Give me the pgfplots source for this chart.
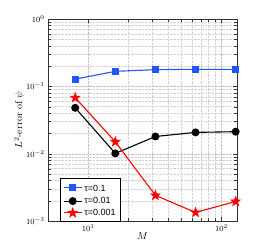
\documentclass[border=0pt]{standalone}
\usepackage{pgfplots}
\pgfplotsset{compat=1.18}
\usepackage{fontspec}
\newfontfamily\legfont{Liberation Sans}
\definecolor{myblue}{RGB}{35,85,255}
\pgfdeclareplotmark{fstar}{%
  \pgfpathmoveto{\pgfpointpolar{90}{\pgfplotmarksize}}%
  \pgfpathlineto{\pgfpointpolar{126}{0.40\pgfplotmarksize}}%
  \pgfpathlineto{\pgfpointpolar{162}{\pgfplotmarksize}}%
  \pgfpathlineto{\pgfpointpolar{198}{0.40\pgfplotmarksize}}%
  \pgfpathlineto{\pgfpointpolar{234}{\pgfplotmarksize}}%
  \pgfpathlineto{\pgfpointpolar{270}{0.40\pgfplotmarksize}}%
  \pgfpathlineto{\pgfpointpolar{306}{\pgfplotmarksize}}%
  \pgfpathlineto{\pgfpointpolar{342}{0.40\pgfplotmarksize}}%
  \pgfpathlineto{\pgfpointpolar{18}{\pgfplotmarksize}}%
  \pgfpathlineto{\pgfpointpolar{54}{0.40\pgfplotmarksize}}%
  \pgfpathclose
  \pgfusepathqfillstroke
}
\begin{document}
\begin{tikzpicture}[x=1pt,y=1pt]
\useasboundingbox (-48,-28) rectangle (215,221);
\begin{axis}[
  at={(0,0)}, anchor=south west,
  scale only axis, width=189pt, height=202pt,
  xmode=log, ymode=log,
  xmin=5, xmax=131, ymin=1e-3, ymax=1,
  xtick={10,100}, ytick={1e-3,1e-2,1e-1,1},
  grid=both,
  major grid style={densely dotted, gray!50, line width=0.3pt},
  minor grid style={densely dotted, gray!35, line width=0.3pt},
  tick label style={font=\fontsize{8}{9}\selectfont},
  xlabel={$M$}, ylabel={$L^2$-error of $\psi$},
  label style={font=\fontsize{10}{11}\selectfont},
  xlabel style={yshift=5pt},
  ylabel style={yshift=-5pt},
  axis line style={line width=0.4pt, black!80},
  tick style={black!80},
  legend style={at={(rel axis cs:0.063,0)}, anchor=south west,
    font=\legfont\fontsize{9}{11}\selectfont, draw=black, line width=0.5pt,
    row sep=0pt, inner xsep=3pt, inner ysep=2pt},
  legend cell align=left,
  legend image code/.code={%
    \draw[#1, line width=1.1pt] (0pt,0pt) -- (18pt,0pt);
    \draw[#1, line width=1.1pt] plot coordinates {(9pt,0pt)};},
]
\addplot[color=myblue, line width=1.1pt, mark=square*, mark size=3pt, mark options={solid}]
  coordinates {(8,0.128) (16,0.167) (32,0.177) (64,0.179) (128,0.179)};
\addlegendentry{\rule[-8pt]{0pt}{17pt}τ=0.1\hspace{6pt}}
\addplot[color=black, line width=1.1pt, mark=*, mark size=3.4pt]
  coordinates {(8,0.048) (16,0.0101) (32,0.018) (64,0.0207) (128,0.0212)};
\addlegendentry{τ=0.01}
\addplot[color=red, line width=1.1pt, mark=fstar, mark size=5pt, mark options={fill=red, line width=0.6pt}]
  coordinates {(8,0.0677) (16,0.015) (32,0.0024) (64,0.00134) (128,0.00195)};
\addlegendentry{τ=0.001}
\end{axis}
\end{tikzpicture}
\end{document}
